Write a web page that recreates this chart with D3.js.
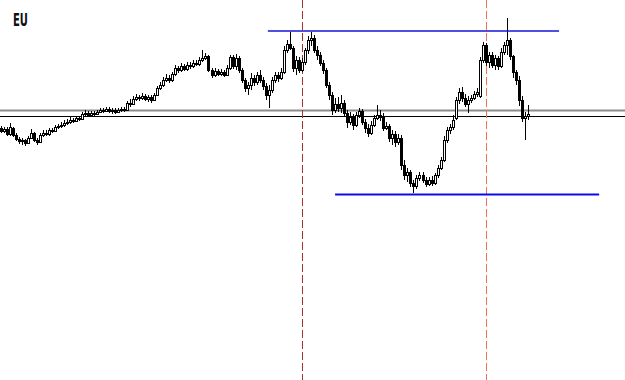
<!DOCTYPE html>
<html>
<head>
<meta charset="utf-8">
<script src="https://cdn.jsdelivr.net/npm/d3@7"></script>
<style>
  html, body { margin: 0; padding: 0; background: #fff; }
  #chart { width: 625px; height: 380px; }
  .title { font-family: "DejaVu Sans Condensed", "DejaVu Sans", sans-serif; font-weight: bold; font-size: 17px; fill: #111; }
</style>
</head>
<body>
<div id="chart"></div>
<script>
// EURUSD daily candles
const opens = [
  1.182, 1.179, 1.181, 1.176, 1.182, 1.175, 1.171, 1.169, 1.170, 1.167,
  1.172, 1.177, 1.170, 1.168, 1.175, 1.177, 1.176, 1.180, 1.179, 1.183,
  1.184, 1.185, 1.187, 1.188, 1.190, 1.189, 1.192, 1.191, 1.196, 1.197,
  1.195, 1.197, 1.196, 1.198, 1.200, 1.199, 1.201, 1.199, 1.200, 1.198,
  1.200, 1.201, 1.200, 1.207, 1.206, 1.211, 1.213, 1.212, 1.214, 1.211,
  1.213, 1.210, 1.215, 1.222, 1.225, 1.230, 1.232, 1.230, 1.236, 1.242,
  1.240, 1.244, 1.241, 1.245, 1.244, 1.247, 1.246, 1.250, 1.252, 1.254,
  1.240, 1.235, 1.239, 1.236, 1.238, 1.235, 1.242, 1.253, 1.244, 1.252,
  1.240, 1.230, 1.222, 1.225, 1.232, 1.228, 1.235, 1.230, 1.224, 1.215,
  1.220, 1.230, 1.235, 1.232, 1.238, 1.260, 1.266, 1.262, 1.242, 1.250,
  1.240, 1.248, 1.260, 1.270, 1.272, 1.260, 1.255, 1.247, 1.240, 1.225,
  1.215, 1.200, 1.206, 1.202, 1.207, 1.197, 1.188, 1.193, 1.185, 1.195,
  1.199, 1.188, 1.182, 1.177, 1.185, 1.192, 1.195, 1.193, 1.182, 1.184,
  1.172, 1.176, 1.168, 1.172, 1.145, 1.135, 1.138, 1.127, 1.124, 1.132,
  1.135, 1.130, 1.126, 1.130, 1.127, 1.135, 1.142, 1.150, 1.170, 1.180,
  1.183, 1.192, 1.210, 1.218, 1.212, 1.206, 1.210, 1.212, 1.216, 1.214,
  1.250, 1.265, 1.248, 1.255, 1.245, 1.252, 1.244, 1.258, 1.265, 1.270,
  1.254, 1.238, 1.230, 1.210, 1.192, 1.194
];
const highs = [
  1.184, 1.183, 1.183, 1.187, 1.183, 1.177, 1.173, 1.172, 1.171, 1.174,
  1.181, 1.178, 1.172, 1.177, 1.180, 1.180, 1.182, 1.182, 1.185, 1.186,
  1.188, 1.190, 1.191, 1.193, 1.192, 1.194, 1.194, 1.198, 1.200, 1.199,
  1.199, 1.199, 1.200, 1.202, 1.202, 1.203, 1.203, 1.202, 1.202, 1.202,
  1.203, 1.203, 1.209, 1.211, 1.214, 1.216, 1.215, 1.217, 1.216, 1.215,
  1.215, 1.217, 1.224, 1.228, 1.233, 1.236, 1.235, 1.238, 1.245, 1.244,
  1.247, 1.246, 1.248, 1.248, 1.250, 1.250, 1.253, 1.260, 1.257, 1.255,
  1.242, 1.242, 1.241, 1.241, 1.240, 1.245, 1.255, 1.255, 1.256, 1.254,
  1.242, 1.232, 1.228, 1.237, 1.235, 1.238, 1.240, 1.233, 1.227, 1.225,
  1.233, 1.238, 1.238, 1.242, 1.264, 1.270, 1.278, 1.264, 1.254, 1.253,
  1.252, 1.262, 1.274, 1.278, 1.275, 1.264, 1.258, 1.250, 1.242, 1.228,
  1.218, 1.212, 1.213, 1.215, 1.210, 1.200, 1.198, 1.196, 1.198, 1.202,
  1.201, 1.191, 1.186, 1.189, 1.195, 1.205, 1.200, 1.197, 1.188, 1.186,
  1.180, 1.179, 1.176, 1.175, 1.150, 1.142, 1.140, 1.130, 1.135, 1.138,
  1.138, 1.133, 1.133, 1.134, 1.137, 1.145, 1.153, 1.174, 1.183, 1.186,
  1.195, 1.213, 1.222, 1.223, 1.216, 1.214, 1.215, 1.219, 1.222, 1.253,
  1.268, 1.267, 1.258, 1.258, 1.255, 1.254, 1.262, 1.268, 1.292, 1.272,
  1.255, 1.240, 1.234, 1.214, 1.198, 1.205
];
const lows = [
  1.177, 1.177, 1.174, 1.174, 1.173, 1.169, 1.166, 1.165, 1.164, 1.166,
  1.171, 1.168, 1.165, 1.167, 1.173, 1.174, 1.174, 1.177, 1.178, 1.181,
  1.182, 1.183, 1.185, 1.186, 1.187, 1.188, 1.189, 1.190, 1.193, 1.193,
  1.194, 1.194, 1.195, 1.197, 1.197, 1.198, 1.197, 1.196, 1.196, 1.197,
  1.198, 1.198, 1.199, 1.203, 1.205, 1.209, 1.209, 1.210, 1.209, 1.208,
  1.207, 1.209, 1.214, 1.220, 1.223, 1.228, 1.227, 1.228, 1.234, 1.237,
  1.238, 1.239, 1.239, 1.241, 1.242, 1.244, 1.244, 1.248, 1.250, 1.238,
  1.232, 1.233, 1.234, 1.234, 1.233, 1.234, 1.240, 1.241, 1.240, 1.237,
  1.227, 1.218, 1.215, 1.220, 1.224, 1.225, 1.227, 1.220, 1.210, 1.202,
  1.217, 1.227, 1.228, 1.230, 1.236, 1.257, 1.260, 1.238, 1.235, 1.237,
  1.238, 1.245, 1.256, 1.264, 1.257, 1.250, 1.244, 1.236, 1.222, 1.210,
  1.195, 1.197, 1.198, 1.197, 1.194, 1.182, 1.185, 1.180, 1.183, 1.192,
  1.185, 1.177, 1.173, 1.175, 1.183, 1.190, 1.189, 1.179, 1.180, 1.168,
  1.165, 1.163, 1.165, 1.140, 1.130, 1.128, 1.123, 1.117, 1.121, 1.129,
  1.127, 1.123, 1.124, 1.124, 1.125, 1.132, 1.140, 1.148, 1.167, 1.176,
  1.180, 1.190, 1.206, 1.208, 1.203, 1.197, 1.207, 1.210, 1.213, 1.212,
  1.247, 1.244, 1.242, 1.242, 1.240, 1.240, 1.242, 1.255, 1.255, 1.250,
  1.232, 1.225, 1.204, 1.188, 1.170, 1.190
];
const closes = [
  1.179, 1.181, 1.176, 1.183, 1.175, 1.171, 1.169, 1.170, 1.167, 1.172,
  1.177, 1.170, 1.168, 1.175, 1.177, 1.176, 1.180, 1.179, 1.183, 1.184,
  1.185, 1.187, 1.188, 1.190, 1.189, 1.192, 1.191, 1.196, 1.197, 1.195,
  1.197, 1.196, 1.198, 1.200, 1.199, 1.201, 1.199, 1.200, 1.198, 1.200,
  1.201, 1.200, 1.207, 1.206, 1.211, 1.213, 1.212, 1.214, 1.211, 1.213,
  1.210, 1.215, 1.222, 1.225, 1.230, 1.232, 1.230, 1.236, 1.242, 1.240,
  1.244, 1.241, 1.245, 1.244, 1.247, 1.246, 1.250, 1.252, 1.254, 1.240,
  1.235, 1.239, 1.236, 1.238, 1.235, 1.242, 1.253, 1.244, 1.252, 1.240,
  1.230, 1.222, 1.225, 1.232, 1.228, 1.235, 1.230, 1.224, 1.215, 1.220,
  1.230, 1.235, 1.232, 1.238, 1.260, 1.266, 1.262, 1.242, 1.250, 1.240,
  1.248, 1.260, 1.270, 1.272, 1.260, 1.255, 1.247, 1.240, 1.225, 1.215,
  1.200, 1.206, 1.202, 1.207, 1.197, 1.188, 1.193, 1.185, 1.195, 1.199,
  1.188, 1.182, 1.177, 1.185, 1.192, 1.195, 1.193, 1.182, 1.184, 1.172,
  1.176, 1.168, 1.172, 1.145, 1.135, 1.138, 1.127, 1.124, 1.132, 1.135,
  1.130, 1.126, 1.130, 1.127, 1.135, 1.142, 1.150, 1.170, 1.180, 1.183,
  1.190, 1.210, 1.218, 1.212, 1.206, 1.210, 1.212, 1.216, 1.218, 1.250,
  1.265, 1.248, 1.255, 1.245, 1.252, 1.244, 1.258, 1.265, 1.270, 1.254,
  1.238, 1.230, 1.210, 1.192, 1.194, 1.196
];

// horizontal levels drawn across the whole chart
const levelPrices = [1.1995, 1.1945];
// trend segments: [start bar, end bar, price]
const resistanceLine = [88.7, 185.3, 1.279];
const supportLine = [111, 198.6, 1.1155];
// bars marked with vertical dashed lines
const markerBars = [100, 161];

const width = 625;
const height = 380;

const candles = opens.map(function (o, i) {
  return { i: i, open: o, high: highs[i], low: lows[i], close: closes[i] };
});

const x = d3.scaleLinear().domain([0, candles.length - 1]).range([0.5, 528]);
const y = d3.scaleLinear().domain([0.930, 1.310]).range([height, 0]);

const svg = d3.select("#chart").append("svg")
  .attr("width", width)
  .attr("height", height)
  .attr("viewBox", [0, 0, width, height]);

svg.append("rect").attr("width", width).attr("height", height).attr("fill", "#fff");

// levels
svg.append("line")
  .attr("x1", 0).attr("x2", width)
  .attr("y1", y(levelPrices[0])).attr("y2", y(levelPrices[0]))
  .attr("stroke", "#8c8c8c").attr("stroke-width", 2);
svg.append("line")
  .attr("x1", 0).attr("x2", width)
  .attr("y1", Math.round(y(levelPrices[1])) + 0.5).attr("y2", Math.round(y(levelPrices[1])) + 0.5)
  .attr("stroke", "#000").attr("stroke-width", 1);

// vertical markers
const markerColors = ["#a8322c", "#f0734f"];
svg.selectAll(".marker")
  .data(markerBars)
  .join("line")
  .attr("class", "marker")
  .attr("x1", function (d) { return Math.round(x(d)) + 0.5; })
  .attr("x2", function (d) { return Math.round(x(d)) + 0.5; })
  .attr("y1", 0).attr("y2", height)
  .attr("stroke", function (d, i) { return markerColors[i]; })
  .attr("stroke-width", 1)
  .attr("stroke-dasharray", "8,3");

// candles
const g = svg.append("g").attr("shape-rendering", "crispEdges");

g.selectAll(".wick")
  .data(candles)
  .join("line")
  .attr("class", "wick")
  .attr("x1", function (d) { return Math.round(x(d.i)) + 0.5; })
  .attr("x2", function (d) { return Math.round(x(d.i)) + 0.5; })
  .attr("y1", function (d) { return Math.round(y(d.high)); })
  .attr("y2", function (d) { return Math.round(y(d.low)); })
  .attr("stroke", "#000");

g.selectAll(".body")
  .data(candles)
  .join("rect")
  .attr("class", "body")
  .attr("x", function (d) { return Math.round(x(d.i)) - 0.5; })
  .attr("y", function (d) { return Math.round(y(Math.max(d.open, d.close))) + 0.5; })
  .attr("width", 2)
  .attr("height", function (d) {
    return Math.max(1, Math.round(y(Math.min(d.open, d.close))) - Math.round(y(Math.max(d.open, d.close))));
  })
  .attr("fill", function (d) { return d.close > d.open ? "#fff" : "#000"; })
  .attr("stroke", "#000")
  .attr("stroke-width", 1);

// trend segments
svg.append("line")
  .attr("x1", x(resistanceLine[0])).attr("x2", x(resistanceLine[1]))
  .attr("y1", y(resistanceLine[2])).attr("y2", y(resistanceLine[2]))
  .attr("stroke", "#1414d8").attr("stroke-width", 1.5);
svg.append("line")
  .attr("x1", x(supportLine[0])).attr("x2", x(supportLine[1]))
  .attr("y1", y(supportLine[2])).attr("y2", y(supportLine[2]))
  .attr("stroke", "#0a0af0").attr("stroke-width", 2);

svg.append("text")
  .attr("class", "title")
  .attr("x", 13)
  .attr("y", 26)
  .attr("textLength", 15)
  .attr("lengthAdjust", "spacingAndGlyphs")
  .text("EU");
</script>
</body>
</html>
